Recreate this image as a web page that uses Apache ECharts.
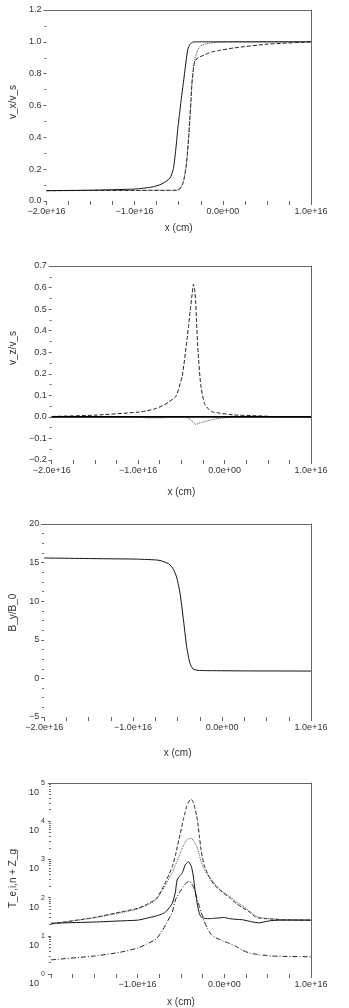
<!DOCTYPE html>
<html>
<head>
<meta charset="utf-8">
<script src="https://cdn.jsdelivr.net/npm/echarts@6/dist/echarts.min.js"></script>
<style>
  html, body { margin: 0; padding: 0; background: #fff; }
  #chart { width: 349px; height: 1008px; }
</style>
</head>
<body>
<div id="chart"></div>
<script>
// x positions are in units of 1e16 cm

// panel 1 : v_x/v_s
const x1 = [-2, -1.5, -1, -0.8, -0.7, -0.6, -0.56, -0.53, -0.51, -0.49, -0.47, -0.45, -0.434, -0.415, -0.398, -0.385,
  -0.372, -0.36, -0.35, -0.337, -0.324, -0.305, -0.287, -0.26, -0.232, -0.2, -0.158, -0.12, -0.05, 0.13, 0.5, 1.0];
const vxSolid = [0.065, 0.068, 0.075, 0.088, 0.105, 0.143, 0.205, 0.34, 0.455, 0.55, 0.645, 0.73, 0.80, 0.885, 0.95, 0.97,
  0.985, 0.992, 0.996, 0.998, 1.0, 1.0, 1.0, 1.0, 1.0, 1.0, 1.0, 1.0, 1.0, 1.0, 1.0, 1.0];
const vxDotted = [0.065, 0.066, 0.066, 0.067, 0.067, 0.067, 0.067, 0.068, 0.07, 0.075, 0.09, 0.115, 0.153, 0.22, 0.32, 0.42,
  0.53, 0.64, 0.74, 0.81, 0.865, 0.915, 0.945, 0.97, 0.98, 0.986, 0.99, 0.994, 0.998, 1.0, 1.0, 1.0];
const vxDashed = [0.065, 0.066, 0.066, 0.067, 0.067, 0.067, 0.067, 0.068, 0.07, 0.075, 0.09, 0.115, 0.153, 0.22, 0.32, 0.42,
  0.53, 0.64, 0.74, 0.81, 0.865, 0.885, 0.898, 0.906, 0.912, 0.92, 0.93, 0.937, 0.945, 0.962, 0.985, 1.0];

// panel 2 : v_z/v_s
const x2 = [-2, -1.5, -1.0, -0.9, -0.8, -0.7, -0.65, -0.564, -0.49, -0.434, -0.417, -0.398, -0.375, -0.36, -0.345, -0.335,
  -0.324, -0.306, -0.276, -0.232, -0.158, -0.05, 0.06, 0.1, 0.39, 0.6, 1.0];
const vzSolid = [0, 0, 0, 0, 0, 0, 0, 0, 0, 0, 0, 0, 0, 0, 0, 0, 0, 0, 0, 0, 0, 0, 0, 0, 0, 0, 0];
const vzDashed = [0.002, 0.008, 0.022, 0.028, 0.038, 0.055, 0.068, 0.095, 0.19, 0.36, 0.42, 0.49, 0.57, 0.615, 0.585, 0.54,
  0.44, 0.3, 0.15, 0.062, 0.026, 0.017, 0.011, 0.009, 0.005, 0.001, 0];
const vzDotted = [0, 0, 0, -0.004, -0.005, -0.004, -0.001, 0, 0, -0.002, -0.006, -0.012, -0.02, -0.026, -0.031, -0.034,
  -0.034, -0.031, -0.027, -0.022, -0.014, -0.006, -0.002, 0, 0, 0, 0];

// panel 3 : B_y/B_0
const x3 = [-2, -1.33, -0.96, -0.71, -0.6, -0.545, -0.508, -0.472, -0.434, -0.398, -0.361, -0.324, -0.269, -0.1, 0.3, 1.0];
const byVals = [15.6, 15.5, 15.45, 15.3, 14.85, 14.1, 13.0, 11.0, 7.6, 4.1, 1.95, 1.2, 1.04, 1.0, 0.97, 0.95];

// panel 4 : temperatures, log10 of the value
const x4 = [-2, -1.5, -1.2, -1.0, -0.895, -0.785, -0.71, -0.674, -0.6, -0.564, -0.545, -0.51, -0.49, -0.472, -0.453, -0.435,
  -0.412, -0.398, -0.379, -0.36, -0.343, -0.32, -0.306, -0.287, -0.27, -0.25, -0.232, -0.195, -0.158, -0.11, -0.05, -0.01,
  0.06, 0.136, 0.21, 0.29, 0.357, 0.4, 0.47, 0.55, 0.7, 1.0];
const tDashedLog = [1.31, 1.48, 1.62, 1.72, 1.82, 1.97, 2.25, 2.42, 2.81, 3.1, 3.3, 3.65, 3.86, 4.05, 4.22, 4.38,
  4.5, 4.55, 4.57, 4.5, 4.38, 4.15, 3.95, 3.6, 3.28, 3.02, 2.85, 2.64, 2.47, 2.32, 2.2, 2.12,
  2.0, 1.85, 1.74, 1.62, 1.5, 1.47, 1.45, 1.44, 1.42, 1.41];
const tDottedLog = [1.31, 1.47, 1.6, 1.7, 1.8, 1.95, 2.2, 2.35, 2.65, 2.85, 2.95, 3.15, 3.27, 3.36, 3.44, 3.5,
  3.54, 3.55, 3.55, 3.5, 3.45, 3.35, 3.25, 3.1, 2.96, 2.84, 2.74, 2.6, 2.5, 2.36, 2.22, 2.14,
  2.03, 1.9, 1.78, 1.65, 1.53, 1.48, 1.46, 1.44, 1.42, 1.41];
const tSolidLog = [1.33, 1.36, 1.39, 1.41, 1.46, 1.52, 1.58, 1.63, 1.85, 2.15, 2.46, 2.58, 2.63, 2.72, 2.85, 2.9,
  2.94, 2.9, 2.81, 2.6, 2.29, 1.95, 1.76, 1.58, 1.5, 1.47, 1.46, 1.45, 1.45, 1.46, 1.47, 1.48,
  1.45, 1.43, 1.42, 1.38, 1.35, 1.34, 1.37, 1.4, 1.41, 1.41];
const tDashDotLog = [0.37, 0.47, 0.57, 0.68, 0.78, 0.92, 1.15, 1.3, 1.62, 1.94, 2.02, 2.16, 2.23, 2.29, 2.35, 2.39,
  2.42, 2.42, 2.37, 2.3, 2.2, 2.02, 1.9, 1.76, 1.62, 1.52, 1.38, 1.2, 1.05, 0.96, 0.9, 0.86,
  0.8, 0.72, 0.62, 0.55, 0.52, 0.5, 0.49, 0.47, 0.46, 0.45];

const logMinor = [];
for (let d = 0; d < 5; d++) for (let m = 2; m <= 9; m++) logMinor.push(d + Math.log10(m));

const TXT = '#333', LINE = '#666';
const grids = [
  {top: 10, height: 191},
  {top: 266, height: 194},
  {top: 524, height: 193},
  {top: 783, height: 191}
].map(g => Object.assign({left: 40, right: 38}, g));
const xNameGap = [22, 27, 31, 23];

function minus(s) { return s.replace('-', '\u2212'); }

function xAxes(k) {
  return [{
    gridIndex: k, type: 'value', position: 'bottom', min: -2, max: 1, interval: 1,
    axisLine: {show: false, onZero: false},
    axisTick: {show: true, length: 4, lineStyle: {color: LINE}},
    minorTick: {show: true, splitNumber: 4, length: 4, lineStyle: {color: LINE}},
    splitLine: {show: false},
    axisLabel: {
      color: TXT, fontSize: 9, margin: 6, showMinLabel: true, showMaxLabel: true,
      formatter: v => {
        if (k === 3 && v === -2) return '';
        if (v === 0) return '0.0e+00';
        return minus(v.toFixed(1)) + 'e+16';
      }
    },
    name: 'x (cm)', nameLocation: 'middle', nameGap: xNameGap[k],
    nameTextStyle: {color: TXT, fontSize: 10}
  }, {
    gridIndex: k, type: 'value', position: 'top', min: -2, max: 1,
    axisLine: {show: true, onZero: false, lineStyle: {color: LINE, width: 1}},
    axisTick: {show: false}, axisLabel: {show: false}, splitLine: {show: false}
  }];
}

function yMain(k, o) {
  return Object.assign({
    gridIndex: k, type: 'value', position: 'left',
    axisLine: {show: false, onZero: false},
    axisTick: {show: true, length: 3, lineStyle: {color: LINE}},
    splitLine: {show: false},
    nameLocation: 'middle', nameGap: 22
  }, o);
}

function yRight(k) {
  return {
    gridIndex: k, type: 'value', position: 'right',
    axisLine: {show: true, onZero: false, lineStyle: {color: LINE, width: 1}},
    axisTick: {show: false}, axisLabel: {show: false}, splitLine: {show: false}
  };
}

const yLabel = (fmt) => ({color: TXT, fontSize: 9, margin: 5, showMinLabel: true, showMaxLabel: true, formatter: fmt});
const yName = (pad) => ({color: TXT, fontSize: 10, padding: [0, 0, 0, pad]});

const yAxes = [
  yMain(0, {min: 0, max: 1.2, interval: 0.2, name: 'v_x/v_s', nameTextStyle: yName(7),
    minorTick: {show: true, splitNumber: 2, length: 2, lineStyle: {color: LINE}},
    axisLabel: yLabel(v => v.toFixed(1))}),
  yRight(0),
  yMain(1, {min: -0.2, max: 0.7, interval: 0.1, name: 'v_z/v_s', nameTextStyle: yName(30),
    minorTick: {show: true, splitNumber: 2, length: 2, lineStyle: {color: LINE}},
    axisLabel: yLabel(v => minus(v.toFixed(1)))}),
  yRight(1),
  yMain(2, {min: -5, max: 20, interval: 5, name: 'B_y/B_0', nameTextStyle: yName(16),
    minorTick: {show: true, splitNumber: 4, length: 2, lineStyle: {color: LINE}},
    axisLabel: yLabel(v => minus(String(v)))}),
  yRight(2),
  yMain(3, {type: 'log', logBase: 10, min: 1, max: 100000, interval: 1, name: 'T_e,i,n + Z_g', nameGap: 23,
    nameTextStyle: yName(0),
    axisLabel: {
      color: TXT, margin: 6, showMinLabel: true, showMaxLabel: true,
      formatter: v => '{s| }\n{e|' + Math.round(Math.log10(v)) + '}\n{b|10}',
      rich: {
        s: {fontSize: 9, lineHeight: 11},
        e: {fontSize: 7, lineHeight: 8, align: 'right', color: TXT},
        b: {fontSize: 9, lineHeight: 11, align: 'right', padding: [0, 6, 0, 0], color: TXT}
      }
    }}),
  yRight(3),
  // log minor ticks, in log10 space
  {gridIndex: 3, type: 'value', position: 'left', min: 0, max: 5,
    axisLine: {show: false, onZero: false}, axisLabel: {show: false}, splitLine: {show: false},
    axisTick: {show: true, length: 2, customValues: logMinor, lineStyle: {color: LINE}}}
];

function zip(xs, ys, f) { return xs.map((x, i) => [x, f ? f(ys[i]) : ys[i]]); }
const pow10 = v => Math.pow(10, v);

function line(k, data, type, color, width, z) {
  return {
    type: 'line', xAxisIndex: 2 * k, yAxisIndex: 2 * k, data: data,
    symbol: 'none', smooth: 0.2, z: z || 2, silent: true,
    lineStyle: {color: color, width: width || 1, type: type}
  };
}

const series = [
  line(0, zip(x1, vxDashed), 'dashed', '#222'),
  line(0, zip(x1, vxDotted), 'dotted', '#444'),
  line(0, zip(x1, vxSolid), 'solid', '#111'),
  line(1, zip(x2, vzDashed), 'dashed', '#222'),
  line(1, zip(x2, vzDotted), 'dotted', '#555'),
  line(1, zip(x2, vzSolid), 'solid', '#000', 1.6, 3),
  line(2, zip(x3, byVals), 'solid', '#111'),
  line(3, zip(x4, tDashedLog, pow10), 'dashed', '#222'),
  line(3, zip(x4, tDottedLog, pow10), 'dotted', '#555'),
  line(3, zip(x4, tSolidLog, pow10), 'solid', '#111'),
  line(3, zip(x4, tDashDotLog, pow10), [5, 2, 1, 2], '#222')
];

const chart = echarts.init(document.getElementById('chart'));
chart.setOption({
  animation: false,
  backgroundColor: '#fff',
  textStyle: {fontFamily: 'Liberation Sans, Arial, sans-serif'},
  grid: grids,
  xAxis: [0, 1, 2, 3].flatMap(xAxes),
  yAxis: yAxes,
  series: series
});
</script>
</body>
</html>
